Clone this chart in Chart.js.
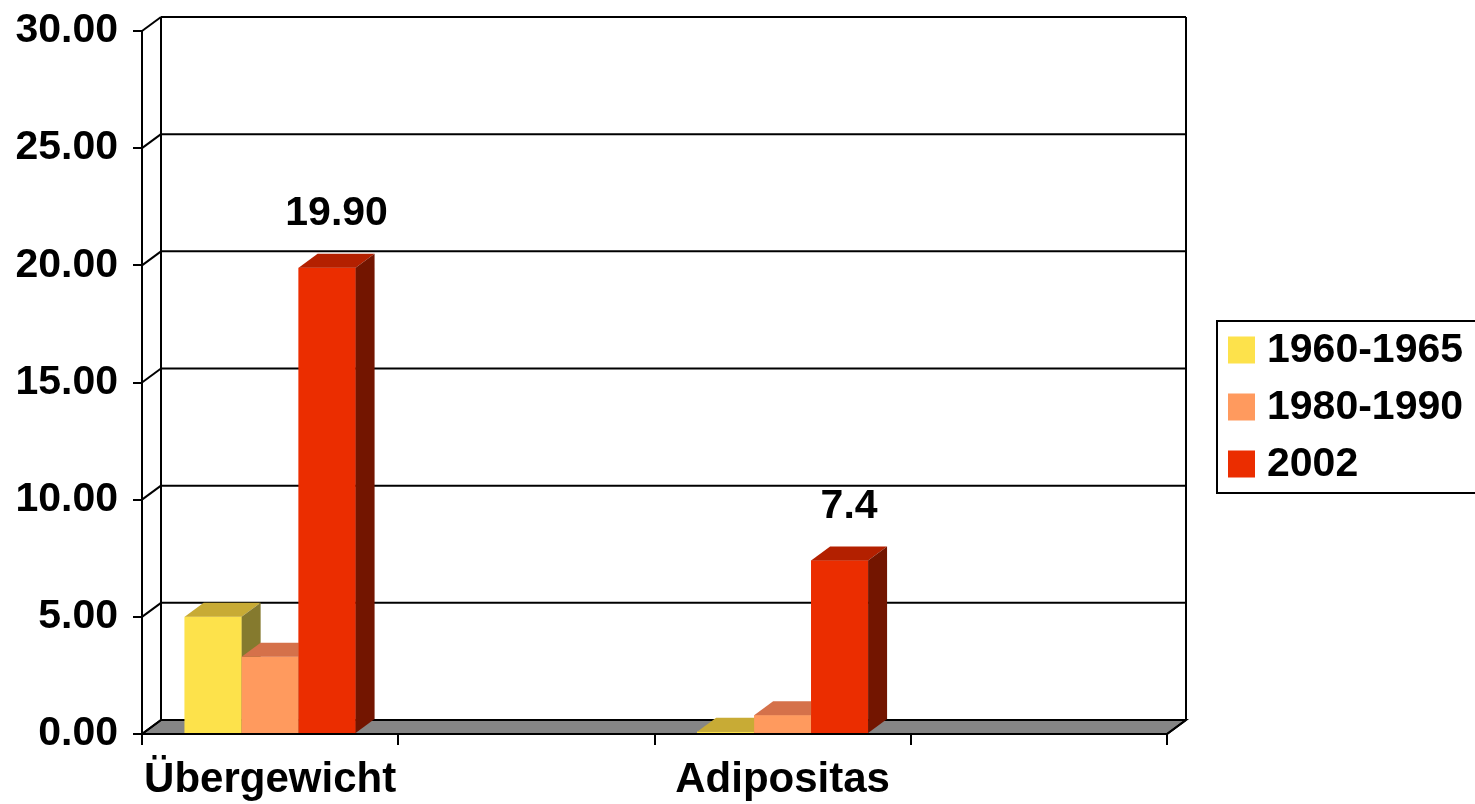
<!DOCTYPE html>
<html>
<head>
<meta charset="utf-8">
<script src="https://cdn.jsdelivr.net/npm/chart.js@4.4.1/dist/chart.umd.min.js"></script>
<style>
  html, body { margin: 0; padding: 0; background: #ffffff; }
  #wrap { width: 1475px; height: 804px; }
</style>
</head>
<body>
<div id="wrap"><canvas id="c" width="1475" height="804"></canvas></div>
<script>
// Categories along the x axis (two empty slots keep the original spacing)
const categories = ['Übergewicht', '', 'Adipositas', ''];
// Series names shown in the legend
const seriesNames = ['1960-1965', '1980-1990', '2002'];
// Values per series
const values1960 = [5.0, null, 0.1, null];
const values1980 = [3.3, null, 0.8, null];
const values2002 = [19.9, null, 7.4, null];
// Value labels written above the 2002 bars
const labels2002 = ['19.90', null, '7.4', null];
// Value axis range
const yMin = 0, yMax = 30, yStep = 5;

// Face colours for the pseudo-3D columns: front, top, side
const palette = [
  { front: '#FDE24B', top: '#C8AB35', side: '#857A2E' },
  { front: '#FF9A5E', top: '#D5714A', side: '#9E5535' },
  { front: '#EB2D00', top: '#B32000', side: '#731500' }
];
const FONT_FAMILY = '"Liberation Sans", Arial, Helvetica, sans-serif';
const tickFont = { family: FONT_FAMILY, size: 41, weight: 'bold' };
const catFont = { family: FONT_FAMILY, size: 42, weight: 'bold' };
const DX = 19, DY = 14;   // depth offset of the back wall and column faces

const seriesValues = [values1960, values1980, values2002];
const seriesLabels = [null, null, labels2002];

const datasets = seriesNames.map((name, i) => ({
  label: name,
  data: seriesValues[i],
  backgroundColor: palette[i].front,
  borderWidth: 0,
  categoryPercentage: 0.667,
  barPercentage: 1.0
}));

function line(ctx, x1, y1, x2, y2) {
  ctx.beginPath();
  ctx.moveTo(x1, y1);
  ctx.lineTo(x2, y2);
  ctx.stroke();
}

// Back wall, floor, side wall and column faces
const depthPlugin = {
  id: 'depth3d',
  beforeDatasetsDraw(chart) {
    const { ctx, chartArea: a, scales: { y } } = chart;
    const y0 = y.getPixelForValue(yMin);
    const yTop = y.getPixelForValue(yMax);
    ctx.save();
    // floor
    ctx.beginPath();
    ctx.moveTo(a.left, y0);
    ctx.lineTo(a.right, y0);
    ctx.lineTo(a.right + DX, y0 - DY);
    ctx.lineTo(a.left + DX, y0 - DY);
    ctx.closePath();
    ctx.fillStyle = '#858585';
    ctx.fill();
    ctx.strokeStyle = '#000';
    ctx.lineWidth = 2;
    ctx.stroke();
    // wall grid lines and the diagonals on the side wall
    y.ticks.forEach(t => {
      const py = y.getPixelForValue(t.value);
      line(ctx, a.left + DX, py - DY, a.right + DX, py - DY);
      line(ctx, a.left, py, a.left + DX, py - DY);
    });
    // wall edges
    line(ctx, a.left + DX, yTop - DY, a.left + DX, y0 - DY);
    line(ctx, a.right + DX, yTop - DY, a.right + DX, y0 - DY);
    line(ctx, a.right, y0, a.right + DX, y0 - DY);
    ctx.restore();
  },
  afterDatasetsDraw(chart) {
    const { ctx, chartArea } = chart;
    // redraw columns left to right so each front face covers its neighbour's faces
    chart.data.datasets.forEach((ds, di) => {
      const meta = chart.getDatasetMeta(di);
      const col = palette[di];
      meta.data.forEach((bar, i) => {
        if (ds.data[i] == null) return;
        const p = bar.getProps(['x', 'y', 'base', 'width'], true);
        const l = p.x - p.width / 2, r = p.x + p.width / 2;
        bar.draw(ctx, chartArea);
        ctx.save();
        // top face
        ctx.beginPath();
        ctx.moveTo(l, p.y);
        ctx.lineTo(l + DX, p.y - DY);
        ctx.lineTo(r + DX, p.y - DY);
        ctx.lineTo(r, p.y);
        ctx.closePath();
        ctx.fillStyle = col.top;
        ctx.fill();
        // side face
        ctx.beginPath();
        ctx.moveTo(r, p.y);
        ctx.lineTo(r + DX, p.y - DY);
        ctx.lineTo(r + DX, p.base - DY);
        ctx.lineTo(r, p.base);
        ctx.closePath();
        ctx.fillStyle = col.side;
        ctx.fill();
        ctx.restore();
      });
    });
    // value labels
    ctx.save();
    ctx.font = 'bold 41px ' + FONT_FAMILY;
    ctx.fillStyle = '#000';
    ctx.textAlign = 'center';
    ctx.textBaseline = 'alphabetic';
    seriesLabels.forEach((labels, di) => {
      if (!labels) return;
      const meta = chart.getDatasetMeta(di);
      labels.forEach((txt, i) => {
        if (txt == null) return;
        const p = meta.data[i].getProps(['x', 'y'], true);
        ctx.fillText(txt, p.x + DX / 2, p.y - 43);
      });
    });
    ctx.restore();
  }
};

// Framed legend on the right
const legendPlugin = {
  id: 'framedLegend',
  afterDraw(chart) {
    const { ctx } = chart;
    const left = 1217, top = 321, w = 270, h = 172;
    const rowStart = 350, rowGap = 57, sq = 27;
    ctx.save();
    ctx.strokeStyle = '#000';
    ctx.lineWidth = 2;
    ctx.strokeRect(left, top, w, h);
    ctx.font = 'bold 41px ' + FONT_FAMILY;
    ctx.textAlign = 'left';
    ctx.textBaseline = 'middle';
    chart.data.datasets.forEach((ds, i) => {
      const cy = rowStart + i * rowGap;
      ctx.fillStyle = ds.backgroundColor;
      ctx.fillRect(left + 11, cy - sq / 2, sq, sq);
      ctx.fillStyle = '#000';
      ctx.fillText(ds.label, left + 50, cy + 1);
    });
    ctx.restore();
  }
};

new Chart(document.getElementById('c'), {
  type: 'bar',
  data: { labels: categories, datasets },
  options: {
    responsive: false,
    animation: false,
    devicePixelRatio: 1,
    layout: { padding: { top: 31, right: 308, bottom: 0, left: 0 } },
    plugins: {
      legend: { display: false },
      tooltip: { enabled: false }
    },
    scales: {
      x: {
        type: 'category',
        grid: { offset: true, drawOnChartArea: false, drawTicks: true, tickLength: 11, color: '#000', lineWidth: 2 },
        border: { display: true, color: '#000', width: 2 },
        ticks: { font: catFont, color: '#000', padding: 10, maxRotation: 0, autoSkip: false },
        afterFit(s) { s.height = 70; s.paddingLeft = 0; s.paddingRight = 0; }
      },
      y: {
        min: yMin,
        max: yMax,
        grid: { drawOnChartArea: false, drawTicks: true, tickLength: 9, color: '#000', lineWidth: 2 },
        border: { display: true, color: '#000', width: 2 },
        ticks: {
          stepSize: yStep,
          font: tickFont,
          color: '#000',
          padding: 15,
          callback: v => Number(v).toFixed(2)
        },
        afterFit(s) { s.width = 142; s.paddingTop = 0; s.paddingBottom = 0; }
      }
    }
  },
  plugins: [depthPlugin, legendPlugin]
});
</script>
</body>
</html>
